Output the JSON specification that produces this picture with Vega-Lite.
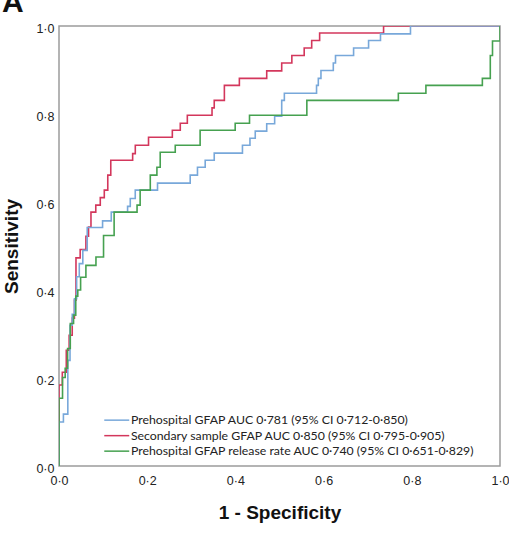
{
  "$schema": "https://vega.github.io/schema/vega-lite/v6.json",
  "width": 441,
  "height": 440,
  "autosize": "none",
  "padding": {"left": 59, "top": 26, "right": 9, "bottom": 73},
  "background": "white",
  "title": {
    "text": "A",
    "anchor": "start",
    "frame": "group",
    "font": "Liberation Sans",
    "fontSize": 30,
    "fontWeight": "bold",
    "color": "#111111",
    "baseline": "alphabetic",
    "dx": -57,
    "offset": -20
  },
  "config": {
    "view": {"stroke": "#9c9c9c", "strokeWidth": 1.5},
    "font": "Liberation Sans"
  },
  "data": {
    "values": [
      {"s": "sec", "i": 0, "fpr": 0, "tpr": 0},
      {"s": "sec", "i": 1, "fpr": 0, "tpr": 0.184},
      {"s": "sec", "i": 2, "fpr": 0.0075, "tpr": 0.213},
      {"s": "sec", "i": 3, "fpr": 0.0165, "tpr": 0.263},
      {"s": "sec", "i": 4, "fpr": 0.023, "tpr": 0.297},
      {"s": "sec", "i": 5, "fpr": 0.03, "tpr": 0.336},
      {"s": "sec", "i": 6, "fpr": 0.035, "tpr": 0.377},
      {"s": "sec", "i": 7, "fpr": 0.0385, "tpr": 0.473},
      {"s": "sec", "i": 8, "fpr": 0.048, "tpr": 0.492},
      {"s": "sec", "i": 9, "fpr": 0.061, "tpr": 0.522},
      {"s": "sec", "i": 10, "fpr": 0.067, "tpr": 0.543},
      {"s": "sec", "i": 11, "fpr": 0.0725, "tpr": 0.577},
      {"s": "sec", "i": 12, "fpr": 0.0834, "tpr": 0.593},
      {"s": "sec", "i": 13, "fpr": 0.0936, "tpr": 0.61},
      {"s": "sec", "i": 14, "fpr": 0.1027, "tpr": 0.627},
      {"s": "sec", "i": 15, "fpr": 0.1106, "tpr": 0.661},
      {"s": "sec", "i": 16, "fpr": 0.1174, "tpr": 0.695},
      {"s": "sec", "i": 17, "fpr": 0.167, "tpr": 0.71},
      {"s": "sec", "i": 18, "fpr": 0.173, "tpr": 0.729},
      {"s": "sec", "i": 19, "fpr": 0.203, "tpr": 0.747},
      {"s": "sec", "i": 20, "fpr": 0.257, "tpr": 0.763},
      {"s": "sec", "i": 21, "fpr": 0.275, "tpr": 0.779},
      {"s": "sec", "i": 22, "fpr": 0.291, "tpr": 0.797},
      {"s": "sec", "i": 23, "fpr": 0.347, "tpr": 0.814},
      {"s": "sec", "i": 24, "fpr": 0.352, "tpr": 0.831},
      {"s": "sec", "i": 25, "fpr": 0.375, "tpr": 0.865},
      {"s": "sec", "i": 26, "fpr": 0.409, "tpr": 0.881},
      {"s": "sec", "i": 27, "fpr": 0.471, "tpr": 0.898},
      {"s": "sec", "i": 28, "fpr": 0.505, "tpr": 0.916},
      {"s": "sec", "i": 29, "fpr": 0.528, "tpr": 0.933},
      {"s": "sec", "i": 30, "fpr": 0.556, "tpr": 0.95},
      {"s": "sec", "i": 31, "fpr": 0.573, "tpr": 0.967},
      {"s": "sec", "i": 32, "fpr": 0.591, "tpr": 0.984},
      {"s": "sec", "i": 33, "fpr": 0.736, "tpr": 1},
      {"s": "sec", "i": 34, "fpr": 1, "tpr": 1},

      {"s": "pre", "i": 0, "fpr": 0, "tpr": 0},
      {"s": "pre", "i": 1, "fpr": 0, "tpr": 0.1},
      {"s": "pre", "i": 2, "fpr": 0.01, "tpr": 0.118},
      {"s": "pre", "i": 3, "fpr": 0.02, "tpr": 0.24},
      {"s": "pre", "i": 4, "fpr": 0.025, "tpr": 0.32},
      {"s": "pre", "i": 5, "fpr": 0.03, "tpr": 0.345},
      {"s": "pre", "i": 6, "fpr": 0.035, "tpr": 0.38},
      {"s": "pre", "i": 7, "fpr": 0.04, "tpr": 0.43},
      {"s": "pre", "i": 8, "fpr": 0.046, "tpr": 0.46},
      {"s": "pre", "i": 9, "fpr": 0.054, "tpr": 0.49},
      {"s": "pre", "i": 10, "fpr": 0.064, "tpr": 0.542},
      {"s": "pre", "i": 11, "fpr": 0.0988, "tpr": 0.557},
      {"s": "pre", "i": 12, "fpr": 0.1185, "tpr": 0.577},
      {"s": "pre", "i": 13, "fpr": 0.1555, "tpr": 0.59},
      {"s": "pre", "i": 14, "fpr": 0.1616, "tpr": 0.608},
      {"s": "pre", "i": 15, "fpr": 0.1729, "tpr": 0.627},
      {"s": "pre", "i": 16, "fpr": 0.2234, "tpr": 0.643},
      {"s": "pre", "i": 17, "fpr": 0.2975, "tpr": 0.661},
      {"s": "pre", "i": 18, "fpr": 0.314, "tpr": 0.679},
      {"s": "pre", "i": 19, "fpr": 0.3315, "tpr": 0.695},
      {"s": "pre", "i": 20, "fpr": 0.352, "tpr": 0.711},
      {"s": "pre", "i": 21, "fpr": 0.416, "tpr": 0.729},
      {"s": "pre", "i": 22, "fpr": 0.433, "tpr": 0.745},
      {"s": "pre", "i": 23, "fpr": 0.445, "tpr": 0.761},
      {"s": "pre", "i": 24, "fpr": 0.471, "tpr": 0.778},
      {"s": "pre", "i": 25, "fpr": 0.489, "tpr": 0.795},
      {"s": "pre", "i": 26, "fpr": 0.505, "tpr": 0.831},
      {"s": "pre", "i": 27, "fpr": 0.511, "tpr": 0.847},
      {"s": "pre", "i": 28, "fpr": 0.584, "tpr": 0.865},
      {"s": "pre", "i": 29, "fpr": 0.588, "tpr": 0.881},
      {"s": "pre", "i": 30, "fpr": 0.594, "tpr": 0.899},
      {"s": "pre", "i": 31, "fpr": 0.622, "tpr": 0.916},
      {"s": "pre", "i": 32, "fpr": 0.627, "tpr": 0.933},
      {"s": "pre", "i": 33, "fpr": 0.668, "tpr": 0.95},
      {"s": "pre", "i": 34, "fpr": 0.702, "tpr": 0.967},
      {"s": "pre", "i": 35, "fpr": 0.729, "tpr": 0.982},
      {"s": "pre", "i": 36, "fpr": 0.797, "tpr": 1},
      {"s": "pre", "i": 37, "fpr": 1, "tpr": 1},

      {"s": "rate", "i": 0, "fpr": 0, "tpr": 0},
      {"s": "rate", "i": 1, "fpr": 0, "tpr": 0.154},
      {"s": "rate", "i": 2, "fpr": 0.008, "tpr": 0.201},
      {"s": "rate", "i": 3, "fpr": 0.014, "tpr": 0.222},
      {"s": "rate", "i": 4, "fpr": 0.0195, "tpr": 0.267},
      {"s": "rate", "i": 5, "fpr": 0.0256, "tpr": 0.324},
      {"s": "rate", "i": 6, "fpr": 0.033, "tpr": 0.343},
      {"s": "rate", "i": 7, "fpr": 0.038, "tpr": 0.386},
      {"s": "rate", "i": 8, "fpr": 0.0426, "tpr": 0.4},
      {"s": "rate", "i": 9, "fpr": 0.049, "tpr": 0.429},
      {"s": "rate", "i": 10, "fpr": 0.061, "tpr": 0.456},
      {"s": "rate", "i": 11, "fpr": 0.0838, "tpr": 0.475},
      {"s": "rate", "i": 12, "fpr": 0.101, "tpr": 0.524},
      {"s": "rate", "i": 13, "fpr": 0.125, "tpr": 0.577},
      {"s": "rate", "i": 14, "fpr": 0.177, "tpr": 0.593},
      {"s": "rate", "i": 15, "fpr": 0.184, "tpr": 0.627},
      {"s": "rate", "i": 16, "fpr": 0.207, "tpr": 0.661},
      {"s": "rate", "i": 17, "fpr": 0.222, "tpr": 0.679},
      {"s": "rate", "i": 18, "fpr": 0.2295, "tpr": 0.713},
      {"s": "rate", "i": 19, "fpr": 0.2636, "tpr": 0.729},
      {"s": "rate", "i": 20, "fpr": 0.32, "tpr": 0.763},
      {"s": "rate", "i": 21, "fpr": 0.3995, "tpr": 0.779},
      {"s": "rate", "i": 22, "fpr": 0.432, "tpr": 0.797},
      {"s": "rate", "i": 23, "fpr": 0.562, "tpr": 0.831},
      {"s": "rate", "i": 24, "fpr": 0.7695, "tpr": 0.847},
      {"s": "rate", "i": 25, "fpr": 0.832, "tpr": 0.865},
      {"s": "rate", "i": 26, "fpr": 0.96, "tpr": 0.881},
      {"s": "rate", "i": 27, "fpr": 0.978, "tpr": 0.933},
      {"s": "rate", "i": 28, "fpr": 0.983, "tpr": 0.966},
      {"s": "rate", "i": 29, "fpr": 1, "tpr": 1}
    ]
  },
  "mark": {"type": "line", "interpolate": "step-after", "strokeWidth": 1.6, "clip": true},
  "encoding": {
    "x": {
      "field": "fpr",
      "type": "quantitative",
      "scale": {"domain": [0, 1], "nice": false, "zero": false},
      "axis": {
        "title": "1 - Specificity",
        "values": [0, 0.2, 0.4, 0.6, 0.8, 1],
        "labelExpr": "replace(format(datum.value, '.1f'), '.', '·')",
        "ticks": false,
        "tickSize": 0,
        "domain": false,
        "grid": false,
        "labelFlush": false,
        "labelFont": "Liberation Sans",
        "labelFontSize": 12.5,
        "labelColor": "#222222",
        "labelPadding": 8,
        "titleFont": "Liberation Sans",
        "titleFontSize": 19,
        "titleFontWeight": "bold",
        "titleColor": "#111111",
        "titlePadding": 17
      }
    },
    "y": {
      "field": "tpr",
      "type": "quantitative",
      "scale": {"domain": [0, 1], "nice": false, "zero": false},
      "axis": {
        "title": "Sensitivity",
        "values": [0, 0.2, 0.4, 0.6, 0.8, 1],
        "labelExpr": "replace(format(datum.value, '.1f'), '.', '·')",
        "ticks": false,
        "tickSize": 0,
        "domain": false,
        "grid": false,
        "labelFlush": false,
        "labelOffset": 2,
        "labelFont": "Liberation Sans",
        "labelFontSize": 12.5,
        "labelColor": "#222222",
        "labelPadding": 5,
        "titleFont": "Liberation Sans",
        "titleFontSize": 19,
        "titleFontWeight": "bold",
        "titleColor": "#111111",
        "titlePadding": 14
      }
    },
    "color": {
      "field": "s",
      "type": "nominal",
      "scale": {
        "domain": ["pre", "sec", "rate"],
        "range": ["#78a8da", "#d3375c", "#46a150"]
      },
      "legend": {
        "title": null,
        "orient": "none",
        "legendX": 51.6,
        "legendY": 388,
        "padding": 0,
        "symbolType": "M-4,0H4",
        "symbolSize": 39,
        "symbolStrokeWidth": 1.5,
        "labelOffset": 8,
        "labelFont": "Lato",
        "labelFontSize": 12.3,
        "labelColor": "#222222",
        "labelLimit": 450,
        "rowPadding": 2.5,
        "labelExpr": "datum.value === 'pre' ? 'Prehospital GFAP AUC 0·781 (95% CI 0·712-0·850)' : datum.value === 'sec' ? 'Secondary sample GFAP AUC 0·850 (95% CI 0·795-0·905)' : 'Prehospital GFAP release rate AUC 0·740 (95% CI 0·651-0·829)'"
      }
    },
    "order": {"field": "i", "type": "quantitative"}
  }
}
